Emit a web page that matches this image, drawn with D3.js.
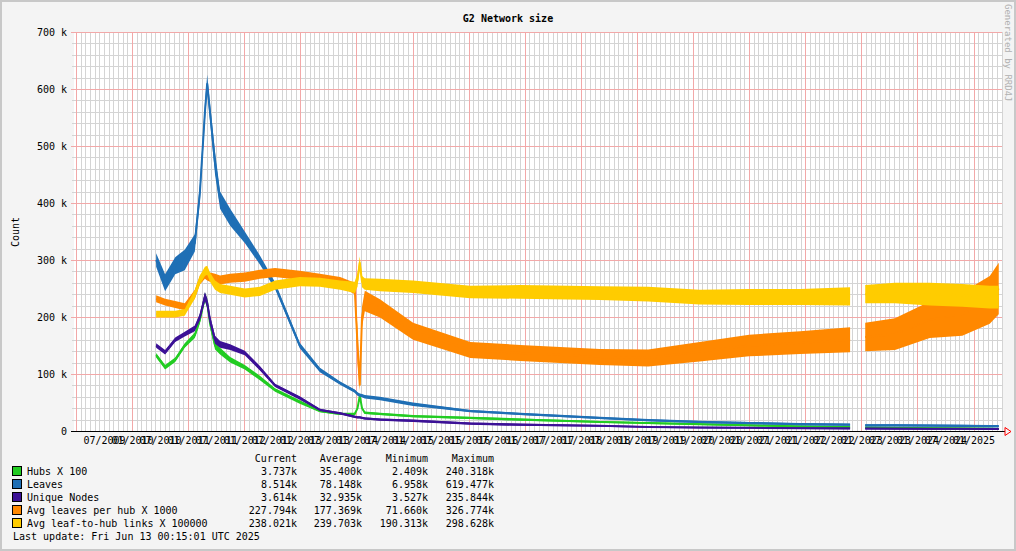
<!DOCTYPE html>
<html><head><meta charset="utf-8">
<script src="https://cdn.jsdelivr.net/npm/d3@7"></script>
<style>body{margin:0;background:#fff}svg{display:block}text{font-family:"DejaVu Sans Mono",monospace;font-size:10px}</style>
</head><body>
<svg id="c" width="1016" height="551"></svg>
<script>
// decimal years (null entry marks the data gap)
const times = [2010.43,2010.59,2010.77,2010.94,2011.12,2011.21,2011.30,2011.34,2011.39,2011.48,2011.57,2011.75,2012.01,2012.28,2012.55,2012.99,2013.35,2013.71,2013.97,2014.02,2014.06,2014.10,2014.15,2014.42,2015.01,2016.03,2016.92,2018.34,2019.2,2020.12,2021.0,2021.91,2022.80,2022.95,2023.07,2023.6,2024.22,2024.8,2025.29,2025.45];
// values in thousands
const hubs   = [133,112,125,150,168,195,235,225,190,150,140,125,112,93,72,51,35,30,30,40,62,40,32,30,26,23,20,16,14,12,10,8,7,null,6,5.5,5,4.5,4,3.7];
const leaves = [300,260,290,300,330,418,560,610,560,470,405,375,340,300,255,150,107,84,70,65,63,62,60,57,47,35,30,23,19,16,14,12,11,null,10,10,9.5,9,8.5,8.5];
const unique = [150,138,160,170,180,200,236,225,195,160,152,147,137,110,80,58,37,31,25,24,24,23,22,20,18,13,11,9,7,6,5.5,5,4.5,null,4.2,4,3.9,3.8,3.7,3.6];
const avgLeaves = [232,226,222,218,240,265,275,272,270,268,265,268,270,275,278,273,268,262,250,150,80,200,228,215,175,142,137,130,128,139,150,155,160,null,165,170,195,205,230,250];
const avgLinks  = [205,205,205,208,240,265,280,282,270,256,250,247,242,245,256,262,261,256,252,265,296,262,258,256,253,244,244,242,240,235,235,235,236,null,240,242,240,238,235,235];
// half-width of the visible noise band (thousands)
const spreadSmall = [4,4,4,4,5,6,8,8,8,7,6,5,4,4,3,3,2,2,2,2,2,2,2,2,2,2,2,1.5,1.5,1.5,1.5,1.5,1.5,null,1.5,1.5,1.5,1.5,1.5,1.5];
const spreadLeaves = [12,15,15,18,15,15,15,15,15,20,15,15,10,8,6,5,4,3,3,3,3,3,3,3,3,2,2,2,2,2,2,2,2,null,2,2,2,2,2,2];
const spreadAvgLeaves = [6,6,6,6,8,8,8,8,8,8,8,8,8,8,8,8,8,8,10,30,10,18,18,16,15,14,14,14,15,17,19,20,22,null,25,28,32,38,42,45];
const spreadAvgLinks = [6,6,6,6,8,8,8,8,8,8,8,8,8,8,8,8,8,8,10,12,10,10,10,11,11,11,12,12,13,13,14,14,16,null,16,18,20,20,20,20];
const yTicks = [0,100,200,300,400,500,600,700];
const legendNames = ["Hubs X 100","Leaves","Unique Nodes","Avg leaves per hub X 1000","Avg leaf-to-hub links X 100000"];
const colors = ["#22cc22","#1f6fb5","#3c1196","#ff8800","#ffcc00"];
const statCurrent = ["3.737k","8.514k","3.614k","227.794k","238.021k"];
const statAverage = ["35.400k","78.148k","32.935k","177.369k","239.703k"];
const statMin = ["2.409k","6.958k","3.527k","71.660k","190.313k"];
const statMax = ["240.318k","619.477k","235.844k","326.774k","298.628k"];

const svg = d3.select("#c");
svg.append("rect").attr("width",1016).attr("height",551).attr("fill","#f4f4f4");
svg.append("rect").attr("x",1).attr("y",1).attr("width",1014).attr("height",549).attr("fill","none").attr("stroke","#c8c8c8").attr("stroke-width",2);

const L=74,R=1002,T=32,B=431;
const x = d3.scaleLinear().domain([2008.966,2025.508]).range([L,R]);
const y = d3.scaleLinear().domain([0,700]).range([B,T]);
const g = svg.append("g");
g.append("rect").attr("x",L).attr("y",T).attr("width",R-L).attr("height",B-T).attr("fill","#fff");
const months = d3.range(2009*12, 2025*12+7).map(m=>m/12).filter(v=>x(v)>L+1&&x(v)<R);
g.selectAll(".mv").data(months.filter(v=>Math.abs(v-Math.round(v))>1e-6)).join("line")
 .attr("x1",d=>Math.round(x(d))+.5).attr("x2",d=>Math.round(x(d))+.5).attr("y1",T).attr("y2",B).attr("stroke","#d4d4d4");
g.selectAll(".mh").data(d3.range(20,700,20).filter(v=>v%100)).join("line")
 .attr("x1",L-2).attr("x2",R).attr("y1",d=>Math.round(y(d))+.5).attr("y2",d=>Math.round(y(d))+.5).attr("stroke","#d4d4d4");
g.selectAll(".Mv").data(d3.range(2009,2026).filter(v=>x(v)>L&&x(v)<R)).join("line")
 .attr("x1",d=>Math.round(x(d))+.5).attr("x2",d=>Math.round(x(d))+.5).attr("y1",T).attr("y2",B).attr("stroke","#f2a8a8");
g.selectAll(".Mh").data(yTicks.slice(1)).join("line")
 .attr("x1",L-3).attr("x2",R).attr("y1",d=>Math.round(y(d))+.5).attr("y2",d=>Math.round(y(d))+.5).attr("stroke","#f2a8a8");

const series=[[hubs,spreadSmall],[leaves,spreadLeaves],[unique,spreadSmall],[avgLeaves,spreadAvgLeaves],[avgLinks,spreadAvgLinks]];
series.forEach(([v,s],i)=>{
  const pts = times.map((t,j)=>({t,v:v[j],s:s[j]}));
  const area = d3.area().defined(d=>d.v!=null).x(d=>x(d.t)).y0(d=>y(Math.max(0,d.v-d.s))).y1(d=>y(d.v+d.s));
  g.append("path").attr("d",area(pts)).attr("fill",colors[i]);
  const line = d3.line().defined(d=>d.v!=null).x(d=>x(d.t)).y(d=>y(d.v));
  g.append("path").attr("d",line(pts)).attr("fill","none").attr("stroke",colors[i]).attr("stroke-width",2);
});

g.append("line").attr("x1",L-3).attr("x2",R+3).attr("y1",B+.5).attr("y2",B+.5).attr("stroke","#000");
g.append("path").attr("d",`M${R+3},${B-3.5}L${R+9},${B+.5}L${R+3},${B+4.5}Z`).attr("fill","none").attr("stroke","red");
const yAxis = svg.append("g").attr("transform",`translate(${L},0)`).call(d3.axisLeft(y).tickValues(yTicks).tickSize(0).tickPadding(7).tickFormat(d=>d===0?"0":d+" k"));
yAxis.select(".domain").remove();
yAxis.selectAll("text").attr("fill","#000").style("font-size","10px").style("font-family","DejaVu Sans Mono");
const xt = d3.range(2009.5,2025.01,0.5);
const xAxis = svg.append("g").attr("transform",`translate(0,${B})`).call(d3.axisBottom(x).tickValues(xt).tickSize(0).tickPadding(6)
  .tickFormat(d=>(Math.abs(d-Math.floor(d)-0.5)<1e-6?"07/":"01/")+Math.floor(d)));
xAxis.select(".domain").remove();
xAxis.selectAll("text").attr("fill","#000").style("font-size","10px").style("font-family","DejaVu Sans Mono");

svg.append("text").attr("x",508).attr("y",22).attr("text-anchor","middle").attr("font-weight","bold").text("G2 Network size");
svg.append("text").attr("transform","translate(19,232) rotate(-90)").attr("text-anchor","middle").text("Count");
svg.append("text").attr("transform","translate(1005,4) rotate(90)").attr("fill","#b0b0b0").style("font-size","9px").text("Generated by RRD4J");

const hdr=[["Current",297],["Average",362],["Minimum",428],["Maximum",494]];
hdr.forEach(([t,xx])=>svg.append("text").attr("x",xx).attr("y",462).attr("text-anchor","end").text(t));
legendNames.forEach((n,i)=>{
  const yy=475+i*13;
  svg.append("rect").attr("x",12.5).attr("y",yy-8.5).attr("width",9).attr("height",9).attr("fill",colors[i]).attr("stroke","#000");
  svg.append("text").attr("x",27).attr("y",yy).text(n);
  [statCurrent,statAverage,statMin,statMax].forEach((a,k)=>svg.append("text").attr("x",hdr[k][1]).attr("y",yy).attr("text-anchor","end").text(a[i]));
});
svg.append("text").attr("x",13).attr("y",540).text("Last update: Fri Jun 13 00:15:01 UTC 2025");
</script></body></html>
